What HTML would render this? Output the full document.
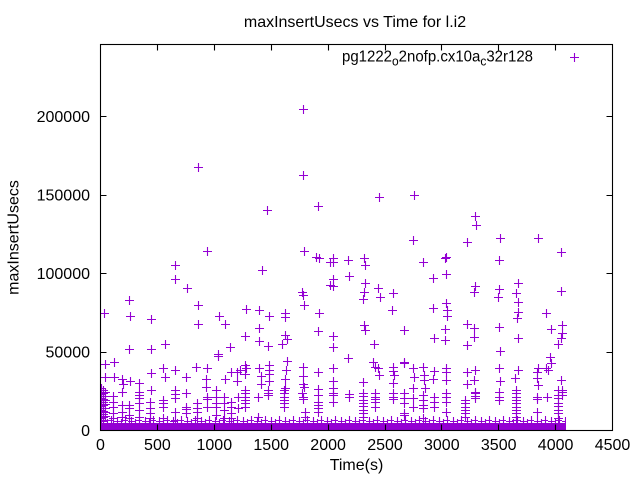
<!DOCTYPE html>
<html><head><meta charset="utf-8"><style>html,body{margin:0;padding:0;background:#fff}svg{display:block}</style></head>
<body>
<svg width="640" height="480" viewBox="0 0 640 480" xmlns="http://www.w3.org/2000/svg" font-family="'Liberation Sans', sans-serif" font-size="16">
<defs>
<marker id="m" markerUnits="userSpaceOnUse" viewBox="-6 -6 12 12" markerWidth="12" markerHeight="12" refX="0" refY="0" orient="0" overflow="visible">
<path d="M-4,0.5h9M0.5,-4v9" stroke="#9400d3" stroke-width="1.1" fill="none"/>
</marker>
<pattern id="p" x="100" y="412" width="14" height="12" patternUnits="userSpaceOnUse">
<path d="M-1,9.5h8M3.5,5v8M3.5,11.5h8M7.5,7v8M7,8.5h8M11.5,4v8" stroke="#9400d3" stroke-width="1.1" fill="none"/>
</pattern>
<clipPath id="cp"><rect x="100" y="44" width="513" height="386.5"/></clipPath>
</defs>
<rect width="640" height="480" fill="#fff"/>
<g clip-path="url(#cp)">
<rect x="100" y="412" width="466" height="12" fill="url(#p)"/>
<rect x="100.5" y="423" width="465.5" height="8" fill="#9400d3"/>
<polyline fill="none" stroke="none" marker-start="url(#m)" marker-mid="url(#m)" marker-end="url(#m)" points="
303,109 198,167 303,175 267,210 318,206 379,197 414,195 475,216 476,225 413,240 467,242 500,238 538,238 561,252 445,258
207,251 304,251 316,257 319,258 330,262 175,265 262,270 175,279 187,288 302,292 303,295 304,305 330,285 129,300 198,305 246,309 259,310 104,313 130,316 151,319 219,316 225,324 269,316 285,313 285,317 319,313 198,324 259,328 318,331 245,336 259,341 285,335 287,339 268,346 282,344 129,349 151,349 165,344 230,347 218,354 105,364 114,362 287,361
105,377 114,377 122,379 123,384 130,381 139,383 151,373 151,390 163,368 165,377 175,370 186,377 196,367 207,368 206,379 206,387 218,356 225,379 231,372 237,372 240,370 237,381 245,365 246,368 245,374 259,368 261,376 261,384 269,365 269,370 269,374 269,381 286,370 285,379 285,388 303,367 303,376 303,384 302,393 318,372 333,368 318,389 304,387
333,258 333,262 348,260 364,258 365,265 423,262 446,257 499,260 349,276 333,279 333,286 433,278 446,274 365,283 364,292 363,299 378,288 380,297 393,293 392,310 475,286 474,292 499,289 498,297 518,283 516,293 518,302 518,312 517,318 561,291 446,303 447,310 447,316 433,308 546,313 364,325 365,330 404,330 445,329 445,340 467,324 474,328 474,337 467,345 499,327 500,351 518,338 551,329 562,325 562,333 561,338 558,344 333,336 333,347 374,344 434,338 348,358 404,363 550,357 551,363
373,362 375,367 378,368 379,375 393,367 393,371 394,375 393,383 404,362 413,368 414,377 413,388 423,367 424,375 424,380 425,388 434,371 433,379 446,368 446,372 446,380 467,372 467,384 475,370 474,380 475,392 499,368 500,381 518,370 515,378 538,368 537,372 537,378 538,385 546,368 548,370 561,380 562,390 333,381 333,388 363,382
101,388 101,390 101,392 101,394 101,396 101,398 101,400 101,402 101,404 101,406 101,408 101,410 101,412 101,414 101,416 101,418 101,420
103,390 103,393 103,396 103,399 103,402 103,405 103,408 103,411 103,414 103,417 103,420
105,392 105,396 105,400 105,404 105,408 105,412 105,416
113,396 113,402 113,407 113,413 113,418
122,392 122,405 122,412 122,417
129,405 129,408 129,415 129,418
139,392 139,395 139,398 139,403 139,410 139,417
150,402 150,408 150,413 150,418
163,400 163,403 163,407 163,418
175,390 175,394 175,398 175,412 175,420
186,393 186,407 186,409 186,413
197,403 197,408 197,412 197,418
207,397 207,399 207,407
216,390 216,397 216,403 216,407 216,415
224,397 224,403 224,410 224,418
231,402 231,407 231,413 231,418
238,397 238,408
245,390 245,393 245,397 245,400 245,403 245,407
258,397 258,417
268,390 268,393 268,395
284,390 284,393 284,397 284,400 284,403 284,407
303,397 303,399 305,412 305,417
318,395 318,402 318,405 318,408 318,412
333,393 333,395 333,402
349,394 349,397
363,393 363,396 363,400 363,403 363,406 363,410 363,413 363,417
375,393 375,397 375,399 375,402 375,407
393,393 393,397 393,399
404,393 404,398 404,403 404,413 404,415
413,398 413,407
423,395 423,400 423,405 423,408 423,418
434,397 434,402 434,407
446,393 446,397 446,402 446,412
465,400 465,403 465,407 465,410 465,413 465,417
475,393 475,396 475,398
499,392 499,397 499,400
516,390 516,393 516,397 516,400 516,403 516,407 516,410 516,413 516,417 516,420
537,397 537,399 537,412
547,397
558,390 558,395 558,398 558,403 558,406 558,410 558,413 558,418
562,392 562,395"/>
</g>
<g stroke="#000" stroke-width="1.1" fill="none">
<rect x="100.5" y="44.5" width="512" height="386"/>
<path d="M157.5,430.5v-6M214.5,430.5v-6M271.5,430.5v-6M328.5,430.5v-6M385.5,430.5v-6M441.5,430.5v-6M498.5,430.5v-6M555.5,430.5v-6
M157.5,44.5v6M214.5,44.5v6M271.5,44.5v6M328.5,44.5v6M385.5,44.5v6M441.5,44.5v6M498.5,44.5v6M555.5,44.5v6
M100.5,352.5h6M100.5,273.5h6M100.5,195.5h6M100.5,116.5h6
M612.5,352.5h-6M612.5,273.5h-6M612.5,195.5h-6M612.5,116.5h-6"/>
</g>
<g fill="#000" text-anchor="end">
<text x="90" y="436.2">0</text>
<text x="90" y="357.7">50000</text>
<text x="90" y="279.2">100000</text>
<text x="90" y="200.7">150000</text>
<text x="90" y="122.2">200000</text>
</g>
<g fill="#000" text-anchor="middle">
<text x="100.5" y="450">0</text>
<text x="157.4" y="450">500</text>
<text x="214.3" y="450">1000</text>
<text x="271.2" y="450">1500</text>
<text x="328.1" y="450">2000</text>
<text x="385" y="450">2500</text>
<text x="441.8" y="450">3000</text>
<text x="498.7" y="450">3500</text>
<text x="555.6" y="450">4000</text>
<text x="612.5" y="450">4500</text>
<text x="356.5" y="470">Time(s)</text>
<text x="355" y="27">maxInsertUsecs vs Time for l.i2</text>
<text transform="translate(18.5,237.5) rotate(-90)">maxInsertUsecs</text>
</g>
<text x="342" y="61.7" fill="#000" textLength="191" lengthAdjust="spacingAndGlyphs">pg1222<tspan font-size="12.8" dy="4">o</tspan><tspan dy="-4">2nofp.cx10a</tspan><tspan font-size="12.8" dy="4">c</tspan><tspan dy="-4">32r128</tspan></text>
<path d="M570,57.5h9M574.5,53v9" stroke="#9400d3" stroke-width="1.1" fill="none"/>
</svg>
</body></html>
